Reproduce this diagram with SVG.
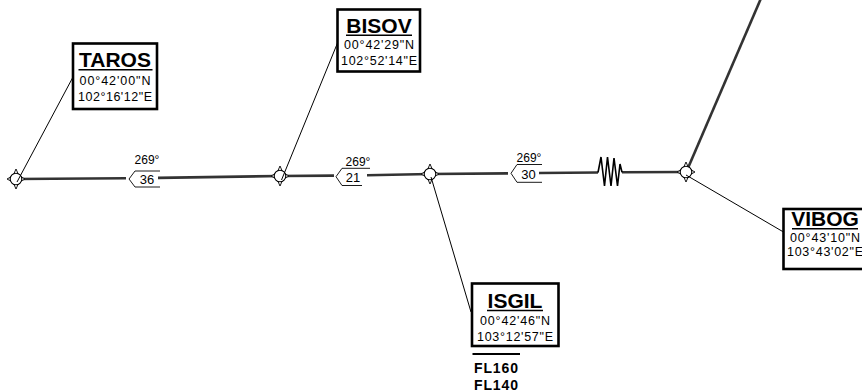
<svg xmlns="http://www.w3.org/2000/svg" xmlns:xlink="http://www.w3.org/1999/xlink" width="862" height="392" viewBox="0 0 862 392">
<style>
.route{fill:none;stroke:#333;stroke-width:2.6;stroke-linecap:butt}
.thin{fill:none;stroke:#000;stroke-width:1}
.flag{fill:none;stroke:#000;stroke-width:0.9}
.box{fill:#fff;stroke:#000;stroke-width:2.6}
.ttl{font-family:"Liberation Sans",Arial,sans-serif;font-weight:bold;font-size:21px;text-anchor:middle;fill:#000}
.crd{font-family:"Liberation Sans",Arial,sans-serif;font-size:12.5px;text-anchor:middle;fill:#000}
.lbl{font-family:"Liberation Sans",Arial,sans-serif;font-size:12px;text-anchor:middle;fill:#000}
.dst{font-family:"Liberation Sans",Arial,sans-serif;font-size:13px;text-anchor:middle;fill:#000}
.fl{font-family:"Liberation Sans",Arial,sans-serif;font-weight:bold;font-size:14px;fill:#000}
.ul{stroke:#000;stroke-width:1.6}
</style>
<defs>
<g id="wpt">
<path d="M0,-10 L3,-3.2 L9,0 L3,3.2 L0,10 L-3,3.2 L-9,0 L-3,-3.2 Z" fill="#fff" stroke="#000" stroke-width="0.9"/>
<circle r="5.8" fill="#fff" stroke="#000" stroke-width="1.1"/>
</g>
</defs>

<g id="connectors">
<polyline class="route" points="16,179 126,178.3"/>
<polyline class="route" points="158,177.9 280,176 334,175.6"/>
<polyline class="route" points="367,175.2 430,174 508,173.4"/>
<polyline class="route" points="539,173 598,172.5"/>
<polyline class="route" points="622,172.3 686,172"/>
<path d="M598,172.5 L601,157 L604.5,186 L607.5,157 L611,186 L614,158 L617.5,186 L620,164 L622,172.3" fill="none" stroke="#000" stroke-width="1.6" stroke-linejoin="miter"/>
<line class="route" x1="688" y1="168" x2="762" y2="-4"/>
</g>

<g id="route-labels">
<path class="flag" d="M160,171 L135,171 L129,179 L135,187 L160,187"/>
<text class="lbl" x="147" y="163.5">269°</text>
<text class="dst" x="147" y="184">36</text>
<path class="flag" d="M370,168.3 L342,168.3 L336,176.7 L342,185.5 L362,185.5"/>
<text class="lbl" x="358" y="165.5">269°</text>
<text class="dst" x="353" y="181.5">21</text>
<path class="flag" d="M542,164.5 L517,164.5 L511,173.3 L517,182.3 L542,182.3"/>
<text class="lbl" x="529" y="162.3">269°</text>
<text class="dst" x="528.5" y="178.5">30</text>
</g>

<g id="node-TAROS">
<use xlink:href="#wpt" href="#wpt" x="16" y="179"/>
<rect class="box" x="73" y="43.5" width="84" height="65.5"/>
<text class="ttl" x="115" y="67">TAROS</text>
<line class="ul" x1="78.5" y1="69.8" x2="152.5" y2="69.8"/>
<text class="crd" x="115" y="84.5" textLength="71" lengthAdjust="spacing">00°42'00"N</text>
<text class="crd" x="115" y="100.5" textLength="74" lengthAdjust="spacing">102°16'12"E</text>
</g>

<g id="node-BISOV">
<use xlink:href="#wpt" href="#wpt" x="280" y="176"/>
<rect class="box" x="337.5" y="9.5" width="82.5" height="62"/>
<text class="ttl" x="379" y="32.5">BISOV</text>
<line class="ul" x1="346" y1="35.3" x2="412" y2="35.3"/>
<text class="crd" x="379" y="49" textLength="70" lengthAdjust="spacing">00°42'29"N</text>
<text class="crd" x="379" y="64.5" textLength="76" lengthAdjust="spacing">102°52'14"E</text>
</g>

<g id="node-ISGIL">
<use xlink:href="#wpt" href="#wpt" x="430" y="174"/>
<rect class="box" x="472" y="283.5" width="86.5" height="62.5"/>
<text class="ttl" x="515" y="307.5">ISGIL</text>
<line class="ul" x1="487" y1="310.5" x2="543" y2="310.5"/>
<text class="crd" x="515" y="324.5" textLength="70" lengthAdjust="spacing">00°42'46"N</text>
<text class="crd" x="515" y="340.5" textLength="76" lengthAdjust="spacing">103°12'57"E</text>
<line x1="472.5" y1="354" x2="520" y2="354" stroke="#000" stroke-width="2"/>
<text class="fl" x="474" y="373" textLength="44" lengthAdjust="spacing">FL160</text>
<text class="fl" x="474" y="389.5" textLength="44" lengthAdjust="spacing">FL140</text>
</g>

<g id="node-VIBOG">
<use xlink:href="#wpt" href="#wpt" x="686" y="172"/>
<rect class="box" x="783.5" y="209" width="84" height="60"/>
<text class="ttl" x="825" y="226">VIBOG</text>
<line class="ul" x1="792" y1="228.8" x2="858" y2="228.8"/>
<text class="crd" x="825" y="242" textLength="70" lengthAdjust="spacing">00°43'10"N</text>
<text class="crd" x="825" y="256" textLength="76" lengthAdjust="spacing">103°43'02"E</text>
</g>

<g id="leaders">
<line class="thin" x1="17" y1="182" x2="73" y2="77"/>
<line class="thin" x1="281.5" y1="180" x2="337.5" y2="43"/>
<line class="thin" x1="431" y1="177" x2="471" y2="312"/>
<line class="thin" x1="686" y1="175" x2="783.5" y2="232"/>
</g>
</svg>
